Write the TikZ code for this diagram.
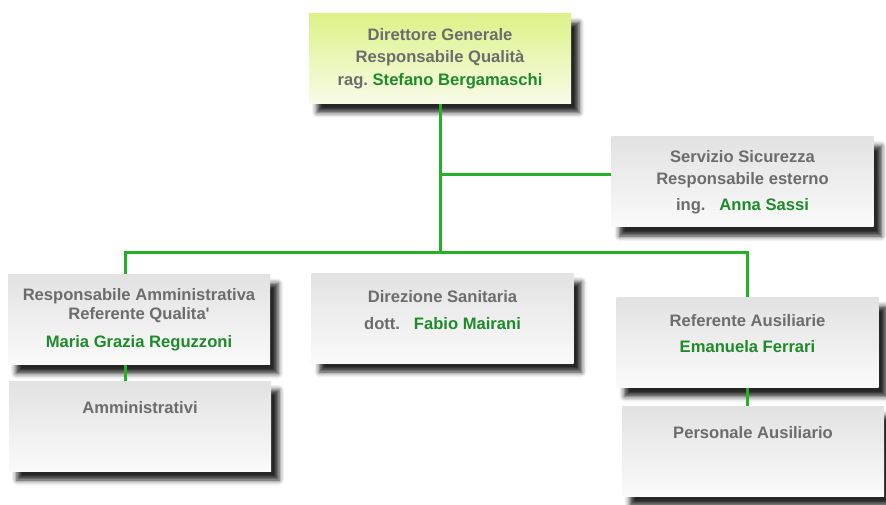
\documentclass[tikz,border=0pt]{standalone}
\usepackage{fontspec}
\setmainfont{Liberation Sans}
\usepackage{tikz}
\usetikzlibrary{calc,shadows.blur}

\definecolor{testo}{RGB}{108,108,108}
\definecolor{verdenome}{RGB}{30,138,42}
\definecolor{verde}{RGB}{36,178,36}
\definecolor{grigioalto}{RGB}{226,226,226}
\definecolor{grigiobasso}{RGB}{250,250,250}
\definecolor{gialloalto}{RGB}{220,242,135}
\definecolor{giallobasso}{RGB}{248,251,232}
\newcommand{\nome}[1]{\textcolor{verdenome}{#1}}

\tikzset{
  box/.style={rectangle, minimum width=262pt, minimum height=90pt, inner sep=0pt,
    align=center, text=testo, font=\bfseries\fontsize{16.6}{22.5}\selectfont,
    top color=grigioalto, bottom color=grigiobasso,
    blur shadow={shadow xshift=8pt, shadow yshift=-9pt, shadow blur radius=5pt, shadow opacity=85}},
  boxdg/.style={box, top color=gialloalto, bottom color=giallobasso},
  boxalto/.style={box, text height=12pt, text depth=38pt},
  linea/.style={draw=verde, line width=3pt}
}

\begin{document}
\begin{tikzpicture}[x=1pt, y=-1pt]
  \useasboundingbox (0,0) rectangle (886,505);
  \node[boxdg] (dg) at (440,58.5) {Direttore Generale\\Responsabile Qualità\\rag.\ \nome{Stefano Bergamaschi}};
  \node[box] (ssic) at (742.5,182) {Servizio Sicurezza\\Responsabile esterno\\[3pt]ing.\ \ \ \nome{Anna Sassi}};
  \node[box] (ramm) at (139,319.5) {Responsabile Amministrativa\\[-3pt]Referente Qualita\textquotesingle\\[5pt]\nome{Maria Grazia Reguzzoni}};
  \node[boxalto] (amm) at (140,426) {Amministrativi};
  \node[box, text depth=16pt] (dsan) at (442.5,318) {Direzione Sanitaria\\[5pt]dott.\ \ \ \nome{Fabio Mairani}};
  \node[box, text depth=18pt] (raus) at (747.5,342.5) {Referente Ausiliarie\\[3pt]\nome{Emanuela Ferrari}};
  \node[boxalto] (paus) at (753,451.5) {Personale Ausiliario};
  \coordinate (bus) at (0,252);
%  connettori
  \draw[linea] (dg.south) -- (dg.south |- bus);
  \draw[linea] (dg.south |- 0,175) -- (ssic.west |- 0,175);
  \draw[linea] ($(ramm.north)+(-14,0)$) |- (raus.north |- bus) -- (raus.north);
  \draw[linea] ($(ramm.south)+(-14,0)$) -- ($(amm.north)+(-15,0)$);
  \draw[linea] (raus.south) -- (raus.south |- paus.north);
\end{tikzpicture}
\end{document}
